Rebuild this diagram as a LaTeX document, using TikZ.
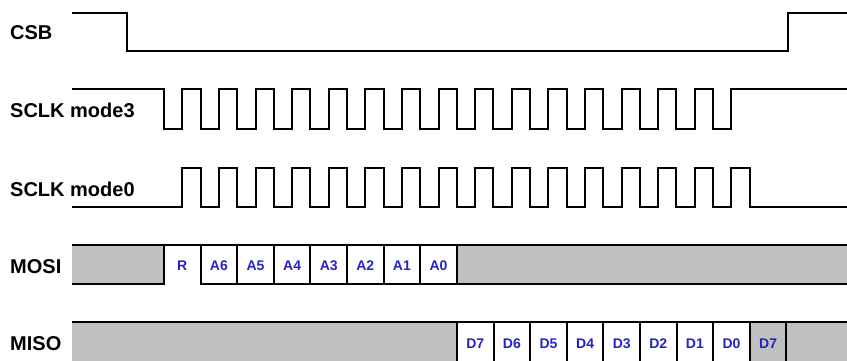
\documentclass[tikz,border=0pt]{standalone}
\usepackage{fontspec}
\setmainfont{Liberation Sans}
\definecolor{bitblue}{RGB}{35,35,200}
\definecolor{busgray}{RGB}{192,192,192}

\begin{document}
\begin{tikzpicture}[x=1pt,y=-1pt,
    wave/.style={line width=2pt,line join=miter},
    sig/.style={font=\bfseries\fontsize{20}{20}\selectfont,anchor=base west,inner sep=0pt},
    bit/.style={font=\bfseries\fontsize{14}{14}\selectfont,text=bitblue,inner sep=0pt}]
    \useasboundingbox (0,0) rectangle (847,360);
    % signal names
    \node[sig] (csb) at (10,39) {CSB};
    \node[sig] (sclkthree) at (10,117) {SCLK mode3};
    \node[sig] (sclkzero) at (10,196) {SCLK mode0};
    \node[sig] (mosi) at (10,273) {MOSI};
    \node[sig] (miso) at (10,350) {MISO};
    % chip select
    \draw[wave] (72,13) -- (127,13) -- (127,51) -- (788,51) -- (788,13) -- (850,13);
    % clocks, 16 cycles
    \draw[wave] (72,89) -- (164,89) foreach \k in {1,...,16} { -- ++(0,40) -- ++(18.3,0) -- ++(0,-40) -- ++(18.3,0)} -- (850,89);
    \draw[wave] (72,207) -- (182.3,207) foreach \k in {1,...,16} { -- ++(0,-39) -- ++(18.3,0) -- ++(0,39) -- ++(18.3,0)} -- (850,207);
    % MOSI
    \fill[busgray] (72,245) rectangle (164,284);
    \fill[busgray] (457,245) rectangle (850,284);
    \draw[wave] (72,245) -- (850,245);
    \draw[wave] (72,284) -- (164,284) -- (164,245);
    \draw[wave] (200,284) -- (850,284);
    \foreach \i in {1,...,8}
      \draw[wave] ({164+36.6*\i},245) -- ++(0,39);
    \foreach \lab [count=\i from 0] in {R,A6,A5,A4,A3,A2,A1,A0}
      \node[bit] (mosi\i) at ({182.3+36.6*\i},266) {\lab};
    % MISO
    \fill[busgray] (72,322) rectangle (457,362);
    \fill[busgray] (749.8,322) rectangle (850,362);
    \draw[wave] (72,322) -- (850,322);
    \foreach \i in {0,...,9}
      \draw[wave] ({457+36.6*\i},322) -- ++(0,40);
    \foreach \lab [count=\i from 0] in {D7,D6,D5,D4,D3,D2,D1,D0,D7}
      \node[bit] (miso\i) at ({475.3+36.6*\i},344) {\lab};
  \end{tikzpicture}
\end{document}
